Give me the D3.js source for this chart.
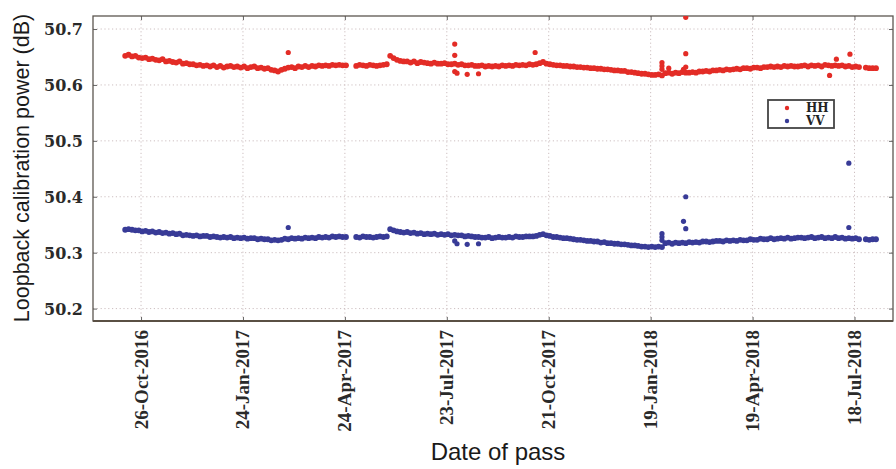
<!DOCTYPE html>
<html>
<head>
<meta charset="utf-8">
<script src="https://cdn.jsdelivr.net/npm/d3@7"></script>
<style>
  html, body { margin: 0; padding: 0; background: #fff; }
  svg { display: block; }
  .ylab { font-family: "DejaVu Serif", serif; font-weight: bold; font-size: 16px; fill: #2a2a2a; }
  .xlab { font-family: "Liberation Serif", serif; font-weight: bold; font-size: 19px; fill: #2a2a2a; }
  .title { font-family: "Liberation Sans", Arial, sans-serif; fill: #1a1a1a; }
  .leg { font-family: "DejaVu Serif", serif; font-weight: bold; font-size: 12px; fill: #222; }
</style>
</head>
<body>
<svg id="chart" width="896" height="469"></svg>
<script>
// Loopback calibration power per pass, HH and VV channels (dB)
// Passes are sampled every third day starting from the first pass date.
const firstPass = "2016-10-12";
const passStepDays = 3;

const hhValues = [
  50.652, 50.654, 50.651, 50.652, 50.649, 50.648, 50.649, 50.646, 50.647, 50.645,
  50.644, 50.646, 50.642, 50.643, 50.641, 50.640, 50.642, 50.638, 50.639, 50.637,
  50.637, 50.635, 50.636, 50.634, 50.635, 50.633, 50.635, 50.632, 50.634, 50.631,
  50.633, 50.634, 50.632, 50.633, 50.631, 50.633, 50.630, 50.632, 50.633, 50.630,
  50.631, 50.629, 50.630, 50.627, 50.626, 50.624, 50.627, 50.629, 50.631, 50.632,
  50.630, 50.633, 50.632, 50.634, 50.632, 50.634, 50.633, 50.635, 50.634, 50.635,
  50.634, 50.636, 50.635, 50.636, 50.635, 50.635, null,   null,   50.634, 50.636,
  50.635, 50.634, 50.636, 50.635, 50.634, 50.635, 50.636, 50.637, 50.652, 50.648,
  50.645, 50.643, 50.642, 50.642, 50.640, 50.642, 50.639, 50.641, 50.640, 50.639,
  50.638, 50.640, 50.638, 50.638, 50.639, 50.637, 50.637, 50.638, 50.636, 50.637,
  50.635, 50.635, 50.636, 50.634, 50.634, 50.635, 50.633, 50.634, 50.633, 50.634,
  50.633, 50.635, 50.634, 50.635, 50.634, 50.636, 50.635, 50.636, 50.635, 50.637,
  50.636, 50.637, 50.639, 50.641, 50.638, 50.637, 50.636, 50.635, 50.635, 50.634,
  50.634, 50.633, 50.633, 50.632, 50.632, 50.631, 50.631, 50.630, 50.630, 50.629,
  50.629, 50.628, 50.628, 50.627, 50.626, 50.626, 50.625, 50.625, 50.623, 50.623,
  50.622, 50.621, 50.620, 50.620, 50.619, 50.618, 50.618, 50.619, 50.617, 50.621,
  50.622, 50.620, 50.622, 50.621, 50.623, 50.622, 50.622, 50.623, 50.622, 50.624,
  50.624, 50.625, 50.624, 50.626, 50.626, 50.627, 50.626, 50.628, 50.627, 50.628,
  50.629, 50.628, 50.630, 50.630, 50.629, 50.631, 50.631, 50.630, 50.632, 50.632,
  50.633, 50.632, 50.633, 50.632, 50.634, 50.633, 50.634, 50.633, 50.633, 50.634,
  50.635, 50.633, 50.635, 50.634, 50.635, 50.633, 50.636, 50.635, 50.634, 50.635,
  50.634, 50.635, 50.633, 50.634, 50.632, 50.633, 50.632, null,   50.631, 50.630,
  50.630, 50.630
];

const vvValues = [
  50.341, 50.342, 50.341, 50.340, 50.340, 50.338, 50.339, 50.337, 50.338, 50.336,
  50.337, 50.335, 50.336, 50.334, 50.335, 50.333, 50.334, 50.331, 50.332, 50.331,
  50.330, 50.331, 50.329, 50.330, 50.330, 50.328, 50.329, 50.328, 50.327, 50.328,
  50.327, 50.328, 50.326, 50.327, 50.326, 50.327, 50.325, 50.326, 50.326, 50.324,
  50.325, 50.324, 50.324, 50.322, 50.323, 50.322, 50.323, 50.325, 50.324, 50.326,
  50.325, 50.326, 50.325, 50.327, 50.326, 50.327, 50.326, 50.328, 50.327, 50.328,
  50.327, 50.329, 50.328, 50.329, 50.328, 50.328, null,   null,   50.328, 50.327,
  50.329, 50.328, 50.328, 50.327, 50.328, 50.329, 50.328, 50.329, 50.342, 50.340,
  50.338, 50.337, 50.336, 50.337, 50.335, 50.336, 50.334, 50.335, 50.333, 50.334,
  50.333, 50.334, 50.332, 50.333, 50.332, 50.333, 50.331, 50.332, 50.331, 50.331,
  50.329, 50.330, 50.329, 50.328, 50.328, 50.327, 50.327, 50.328, 50.326, 50.327,
  50.328, 50.327, 50.327, 50.328, 50.327, 50.329, 50.328, 50.328, 50.329, 50.329,
  50.329, 50.330, 50.332, 50.333, 50.331, 50.330, 50.328, 50.328, 50.327, 50.326,
  50.326, 50.325, 50.324, 50.323, 50.323, 50.322, 50.321, 50.321, 50.320, 50.320,
  50.318, 50.319, 50.317, 50.317, 50.316, 50.316, 50.315, 50.315, 50.314, 50.313,
  50.313, 50.312, 50.311, 50.311, 50.310, 50.311, 50.310, 50.311, 50.310, 50.317,
  50.318, 50.316, 50.318, 50.317, 50.318, 50.317, 50.319, 50.318, 50.319, 50.318,
  50.320, 50.320, 50.319, 50.320, 50.321, 50.321, 50.320, 50.322, 50.321, 50.322,
  50.321, 50.323, 50.322, 50.322, 50.324, 50.323, 50.323, 50.325, 50.324, 50.324,
  50.326, 50.324, 50.325, 50.326, 50.325, 50.327, 50.325, 50.326, 50.327, 50.327,
  50.326, 50.327, 50.328, 50.326, 50.327, 50.328, 50.326, 50.327, 50.326, 50.328,
  50.326, 50.327, 50.325, 50.326, 50.325, 50.326, 50.324, null,   50.324, 50.323,
  50.324, 50.324
];

// Isolated passes away from the main trend
const hhOutlierDates = [
  "2017-03-05", "2017-07-30", "2017-07-30", "2017-07-30", "2017-08-01", "2017-08-10",
  "2017-08-20", "2017-10-09", "2018-01-29", "2018-01-29", "2018-01-29", "2018-02-04",
  "2018-02-19", "2018-02-19", "2018-02-19", "2018-02-17", "2018-06-26", "2018-07-02",
  "2018-07-14"
];
const hhOutlierValues = [
  50.658, 50.673, 50.653, 50.624, 50.621, 50.619,
  50.620, 50.658, 50.640, 50.634, 50.628, 50.630,
  50.721, 50.656, 50.632, 50.628, 50.617, 50.646,
  50.655
];
const vvOutlierDates = [
  "2017-03-05", "2017-07-30", "2017-08-01", "2017-08-10", "2017-08-20",
  "2018-01-29", "2018-01-29", "2018-01-29", "2018-02-17", "2018-02-19",
  "2018-02-19", "2018-07-13", "2018-07-13"
];
const vvOutlierValues = [
  50.345, 50.321, 50.316, 50.315, 50.316,
  50.334, 50.328, 50.322, 50.356, 50.343,
  50.400, 50.460, 50.345
];

const xTickDates = ["2016-10-26", "2017-01-24", "2017-04-24", "2017-07-23",
                    "2017-10-21", "2018-01-19", "2018-04-19", "2018-07-18"];
const yTickValues = [50.2, 50.3, 50.4, 50.5, 50.6, 50.7];

const seriesNames = ["HH", "VV"];
const seriesColors = ["#e32c26", "#383b97"];

// ---------------------------------------------------------------
const parse = d3.timeParse("%Y-%m-%d");
const fmt = d3.timeFormat("%d-%b-%Y");
const start = parse(firstPass);
const passDates = hhValues.map((_, i) => d3.timeDay.offset(start, i * passStepDays));

const svg = d3.select("#chart");
const plot = { left: 93, right: 893, top: 16, bottom: 321 };

const x = d3.scaleTime()
  .domain([new Date(2016, 8, 13, 14), new Date(2018, 7, 21)])
  .range([plot.left, plot.right]);
const y = d3.scaleLinear()
  .domain([50.1778, 50.7233])
  .range([plot.bottom, plot.top]);

const xTicks = xTickDates.map(parse);

// clip for points
svg.append("defs").append("clipPath").attr("id", "plotClip")
  .append("rect")
  .attr("x", plot.left).attr("y", plot.top)
  .attr("width", plot.right - plot.left).attr("height", plot.bottom - plot.top);

// dotted grid
const grid = svg.append("g").attr("stroke", "#cdbfc0").attr("stroke-width", 1)
  .attr("stroke-dasharray", "1.2,2.6");
grid.selectAll("line.v").data(xTicks).join("line")
  .attr("x1", d => x(d)).attr("x2", d => x(d))
  .attr("y1", plot.top).attr("y2", plot.bottom);
grid.selectAll("line.h").data(yTickValues).join("line")
  .attr("x1", plot.left).attr("x2", plot.right)
  .attr("y1", d => y(d)).attr("y2", d => y(d));

// axes with inward ticks
const tick = 4;
const bottomAxis = svg.append("g").attr("transform", `translate(0,${plot.bottom})`)
  .call(d3.axisBottom(x).tickValues(xTicks).tickSize(-tick).tickFormat(""));
const topAxis = svg.append("g").attr("transform", `translate(0,${plot.top})`)
  .call(d3.axisTop(x).tickValues(xTicks).tickSize(-tick).tickFormat(""));
const leftAxis = svg.append("g").attr("transform", `translate(${plot.left},0)`)
  .call(d3.axisLeft(y).tickValues(yTickValues).tickSize(-tick).tickPadding(10)
    .tickFormat(d3.format(".1f")));
const rightAxis = svg.append("g").attr("transform", `translate(${plot.right},0)`)
  .call(d3.axisRight(y).tickValues(yTickValues).tickSize(-tick).tickFormat(""));

[bottomAxis, topAxis, leftAxis, rightAxis].forEach(a => {
  a.select(".domain").remove();
  a.selectAll(".tick line").attr("stroke", "#666").attr("stroke-width", 1);
});
leftAxis.selectAll(".tick text").attr("class", "ylab").attr("dy", "0.36em");

// x tick labels, rotated
svg.append("g").selectAll("text").data(xTicks).join("text")
  .attr("class", "xlab")
  .attr("transform", d => `translate(${x(d)},${plot.bottom + 9}) rotate(-90)`)
  .attr("text-anchor", "end")
  .attr("dy", "0.34em")
  .text(d => fmt(d));

// frame
svg.append("rect")
  .attr("x", plot.left).attr("y", plot.top)
  .attr("width", plot.right - plot.left).attr("height", plot.bottom - plot.top)
  .attr("fill", "none").attr("stroke", "#5c5650").attr("stroke-width", 1.3);
svg.append("line")
  .attr("x1", plot.left).attr("x2", plot.right)
  .attr("y1", plot.bottom).attr("y2", plot.bottom)
  .attr("stroke", "#5a5044").attr("stroke-width", 2);

// points
const pts = svg.append("g").attr("clip-path", "url(#plotClip)");
const dotR = 2.9;
function drawSeries(values, color) {
  const data = passDates.map((d, i) => ({ d, v: values[i] })).filter(p => p.v != null);
  pts.append("g").selectAll("circle").data(data).join("circle")
    .attr("cx", p => x(p.d)).attr("cy", p => y(p.v)).attr("r", dotR)
    .attr("fill", color);
}
function drawOutliers(dates, values, color) {
  pts.append("g").selectAll("circle").data(dates.map((d, i) => ({ d: parse(d), v: values[i] })))
    .join("circle")
    .attr("cx", p => x(p.d)).attr("cy", p => y(p.v)).attr("r", 2.6)
    .attr("fill", color);
}
drawSeries(hhValues, seriesColors[0]);
drawSeries(vvValues, seriesColors[1]);
drawOutliers(hhOutlierDates, hhOutlierValues, seriesColors[0]);
drawOutliers(vvOutlierDates, vvOutlierValues, seriesColors[1]);

// legend
const leg = svg.append("g").attr("transform", "translate(768,100)");
leg.append("rect").attr("width", 66).attr("height", 28)
  .attr("fill", "#fff").attr("stroke", "#444").attr("stroke-width", 1.8);
seriesNames.forEach((name, i) => {
  leg.append("circle").attr("cx", 19).attr("cy", 8 + i * 13).attr("r", 2.2)
    .attr("fill", seriesColors[i]);
  leg.append("text").attr("class", "leg").attr("x", 38).attr("y", 8 + i * 13)
    .attr("dy", "0.36em").text(name);
});

// axis titles
svg.append("text").attr("class", "title")
  .attr("transform", `translate(29,168) rotate(-90)`)
  .attr("text-anchor", "middle").attr("font-size", 21.5)
  .text("Loopback calibration power (dB)");
svg.append("text").attr("class", "title")
  .attr("x", 498).attr("y", 460)
  .attr("text-anchor", "middle").attr("font-size", 24)
  .text("Date of pass");
</script>
</body>
</html>
